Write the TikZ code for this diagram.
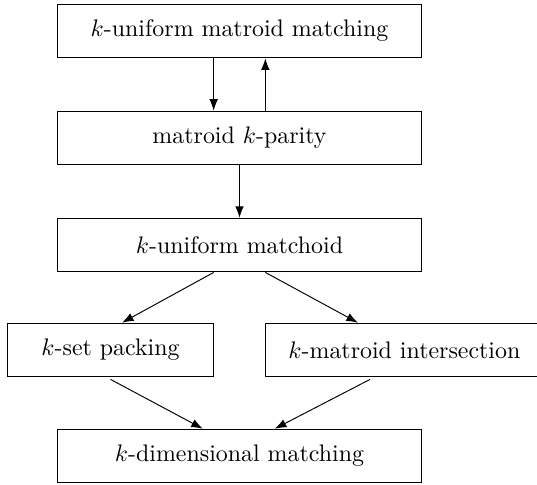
\documentclass[tikz,border=0pt]{standalone}
\usetikzlibrary{arrows.meta,calc,positioning}
\tikzset{>=Latex,
  problem/.style={draw,rectangle,minimum height=0.79cm,inner sep=2pt},
  wide/.style={problem,minimum width=5.34cm},
  reduce/.style={->}}
\begin{document}
\begin{tikzpicture}

\useasboundingbox (0,0) rectangle (7.897,-7.118);
\node[wide] (umm) at (3.522,-0.456) {$k$-uniform matroid matching};
\node[wide,below=0.77cm of umm] (par) {matroid $k$-parity};
\node[wide,below=0.77cm of par] (mch) {$k$-uniform matchoid};
\node[problem,minimum width=3.04cm] (pack) at (1.625,-5.147) {$k$-set packing};
\node[problem,minimum width=4.1cm] (inter) at (5.947,-5.147) {$k$-matroid intersection};
\node[wide] (dim) at (3.522,-6.706) {$k$-dimensional matching};
\draw[reduce] ($(umm.south)+(-0.38,0)$)--($(par.north)+(-0.38,0)$);
\draw[reduce] ($(par.north)+(0.38,0)$)--($(umm.south)+(0.38,0)$);
\draw[reduce] (par)--(mch);
\draw[reduce] ($(mch.south)+(-0.38,0)$)--($(pack.north)+(0.17,0)$);
\draw[reduce] ($(mch.south)+(0.38,0)$)--($(inter.north)+(-0.685,0)$);
\draw[reduce] ($(pack.south)+(0,-0.03)$)--($(dim.north)+(-0.54,0)$);
\draw[reduce] ($(inter.south)+(-0.505,-0.03)$)--($(dim.north)+(0.52,0)$);
\end{tikzpicture}
\end{document}
